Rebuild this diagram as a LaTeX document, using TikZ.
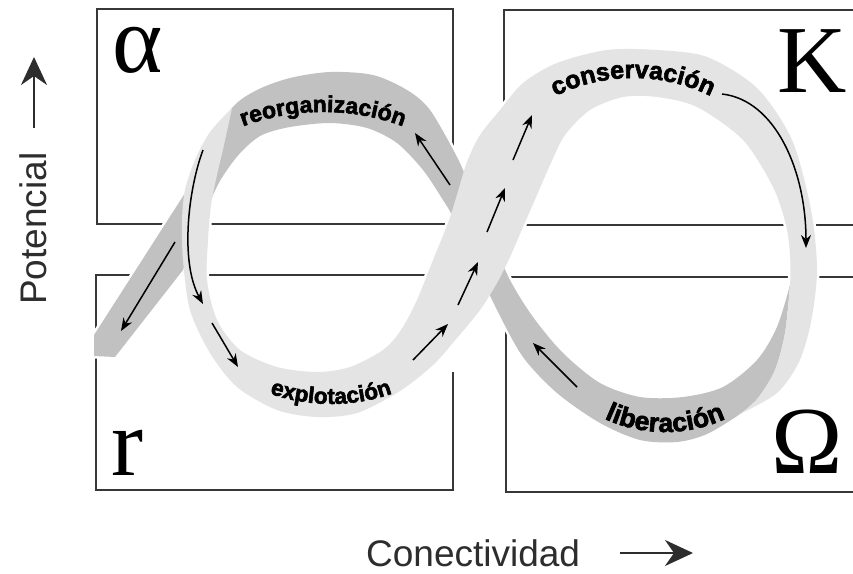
\documentclass[tikz,border=0pt]{standalone}
\usepackage{fontspec}
\setmainfont{Liberation Serif}
\newfontfamily\serfam{Liberation Serif}
\newfontfamily\axfam{Liberation Sans}
\newfontfamily\bandfam{Liberation Sans}[BoldFeatures={FakeBold=2.5}]
\usetikzlibrary{arrows.meta,decorations.text}
\definecolor{bandlight}{RGB}{228,228,228}
\definecolor{banddark}{RGB}{193,193,193}
\definecolor{boxline}{RGB}{55,55,55}
\definecolor{axtext}{RGB}{45,45,45}
\newcommand\lblfa{\bandfam\bfseries\fontsize{23}{23}\selectfont}
\newcommand\lblfb{\bandfam\bfseries\fontsize{25}{25}\selectfont}
\newcommand\lblfc{\bandfam\bfseries\fontsize{22.5}{22.5}\selectfont}
\newcommand\lblfd{\bandfam\bfseries\fontsize{26.5}{26.5}\selectfont}
\newcommand\bandDshape{(94,335) -- plot[smooth] coordinates {(187,190) (205,152) (232,108) (257,90) (290,78) (330,72) (373,75) (407,90) (430,110) (457,157) (470,187) (490,235) (510,280) (533,317) (563,353) (600,383) (640,397) (683,397) (723,387) (757,360) (777,327) (790,285)} -- plot[smooth] coordinates {(790,285) (785,333) (775,370) (758,398) (740,414) (707,434) (677,442) (640,440) (600,423) (557,393) (523,357) (497,310) (475,263) (453,217) (443,200) (423,170) (397,143) (367,128) (330,123) (290,127) (262,135) (243,150) (227,170) (213,195) (183,270)} -- (115,357) -- (94,356) -- cycle}
\newcommand\bandLshape{plot[smooth] coordinates {(740,414) (777,393) (799,362) (811,322) (817,270) (811,210) (792,140) (757,88) (707,57) (657,50) (607,50) (557,63) (523,83) (500,110) (480,135) (467,162) (456,198) (448,223) (433,260) (417,300) (401,330) (383,350) (350,367) (317,372) (277,367) (240,350) (217,320) (207,280) (208,240) (211,205) (217,175) (224,145) (232,108)} -- plot[smooth] coordinates {(232,108) (210,132) (195,160) (185,190) (182,220) (183,260) (190,310) (210,353) (237,387) (277,410) (317,417) (357,413) (400,391) (433,365) (457,338) (480,310) (497,283) (510,257) (523,227) (537,195) (550,165) (565,135) (590,110) (623,97) (657,97) (697,107) (743,140) (773,187) (786,225) (790,255) (790,285) (785,333) (775,370) (758,398) (740,414)} -- cycle}
\begin{document}
\begin{tikzpicture}[x=1pt,y=-1pt,
  boxedge/.style={draw=boxline, line width=2pt},
  halo/.style={draw=white, line width=5pt, line join=round},
  flowarrow/.style={draw=black, line width=1.5pt, -{Stealth[length=13pt,width=10pt]}},
  axisarrow/.style={draw=axtext, line width=2pt, -{Stealth[length=28pt,width=26pt,inset=9pt]}},
  bigsym/.style={inner sep=0pt, anchor=base west, font=\serfam\fontsize{96}{96}\selectfont},
  axlabel/.style={inner sep=0pt, anchor=base west, text=axtext, font=\axfam\fontsize{37}{37}\selectfont},
  bandtext/.style={decorate, decoration={text along path, text align=center, text={#1}}}]
\useasboundingbox (0,0) rectangle (853,573);
% boxes
\draw[boxedge] (97,9) rectangle (453,224);
\draw[boxedge] (504,107) -- (504,10) -- (853,10);
\draw[boxedge] (504,225) -- (853,225);
\draw[boxedge] (453,372) -- (453,490) -- (96,490) -- (96,275) -- (453,275);
\draw[boxedge] (853,277) -- (506,277) -- (506,492) -- (853,492);
% band
\path[halo] \bandDshape;
\path[halo] \bandLshape;
\fill[banddark] \bandDshape;
\fill[bandlight] \bandLshape;
% flow arrows
\draw[flowarrow] (203,150) .. controls (188,190) and (180,262) .. (203,304);
\draw[flowarrow] (212,323) -- (238,367);
\draw[flowarrow] (175,242) -- (121,331);
\draw[flowarrow] (413,360) -- (448,324);
\draw[flowarrow] (458,305) -- (478,262);
\draw[flowarrow] (487,232) -- (505,188);
\draw[flowarrow] (513,160) -- (532,115);
\draw[flowarrow] (722,94) .. controls (775,100) and (806,170) .. (806,248);
\draw[flowarrow] (577,387) -- (533,343);
\draw[flowarrow] (450,185) -- (415,133);
% band labels
\path[bandtext={|\lblfa|reorganización}] (213,140) .. controls (281.7,102.6) and (364.3,102.6) .. (433,140);
\path[bandtext={|\lblfb|conservación}] (528,113) .. controls (590.2,66.3) and (675.8,66.3) .. (738,113);
\path[bandtext={|\lblfc|explotación}] (231,374.6) .. controls (291.9,413.7) and (370.1,413.7) .. (431,374.6);
\path[bandtext={|\lblfd|liberación}] (570,396.5) .. controls (624.6,443.8) and (705.4,443.8) .. (760,396.5);
% phase symbols
\node[bigsym] (alpha) at (112,72) {α};
\node[bigsym] (kap) at (777,92) {K};
\node[bigsym] (rr) at (111,475) {r};
\node[bigsym] (omega) at (771,473) {Ω};
% axes
\node[axlabel, rotate=90] (pot) at (46,305) {Potencial};
\node[axlabel] (con) at (366,566) {Conectividad};
\coordinate (potA) at (34,128);
\coordinate (potB) at (34,57);
\coordinate (conA) at (620,553);
\coordinate (conB) at (693,553);
\draw[axisarrow] (potA) -- (potB);
\draw[axisarrow] (conA) -- (conB);
\end{tikzpicture}
\end{document}
